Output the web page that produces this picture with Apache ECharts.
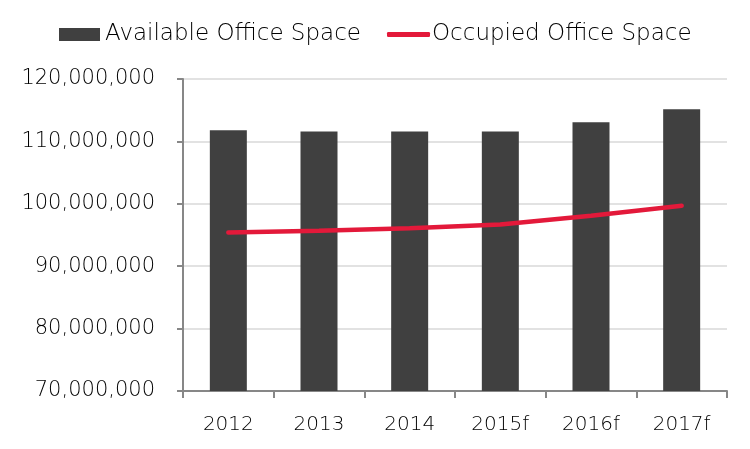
<!DOCTYPE html>
<html><head><meta charset="utf-8">
<script src="https://cdn.jsdelivr.net/npm/echarts@6/dist/echarts.min.js"></script>
<style>html,body{margin:0;padding:0;background:#fff}#c{width:750px;height:449px}</style>
</head><body><div id="c"></div>
<script>
const categories = ['2012','2013','2014','2015f','2016f','2017f'];
const availableSpace = [111780000, 111600000, 111600000, 111600000, 113060000, 115140000];
const occupiedSpace = [95400000, 95700000, 96100000, 96700000, 98100000, 99700000];
const yTicks = [70000000, 80000000, 90000000, 100000000, 110000000, 120000000];

const FONT = 'DejaVu Sans';
const chart = echarts.init(document.getElementById('c'));
chart.setOption({
  animation: false,
  textStyle: {fontFamily: FONT},
  legend: [{
    left: 54, top: 18,
    itemWidth: 41, itemHeight: 13,
    textStyle: {fontFamily: FONT, fontSize: 23, fontWeight: 200, color: '#000'},
    data: [{name: 'Available Office Space', icon: 'rect'}]
  }, {
    left: 382, top: 18,
    itemWidth: 43, itemHeight: 5,
    textStyle: {fontFamily: FONT, fontSize: 23, fontWeight: 200, color: '#000', padding: [0,0,0,-3]},
    data: [{name: 'Occupied Office Space', icon: 'roundRect'}]
  }],
  grid: {left: 183, right: 23, top: 79, bottom: 58, containLabel: false},
  xAxis: {
    type: 'category', data: categories,
    axisLine: {lineStyle: {color: '#878787', width: 2}},
    axisTick: {show: true, length: 7, lineStyle: {color: '#878787', width: 2}},
    axisLabel: {fontFamily: FONT, fontSize: 20, fontWeight: 200, color: '#000', margin: 24}
  },
  yAxis: {
    type: 'value', min: yTicks[0], max: yTicks[yTicks.length-1], interval: 10000000,
    axisLine: {show: true, lineStyle: {color: '#878787', width: 2}},
    axisTick: {show: true, length: 6, lineStyle: {color: '#878787', width: 2}},
    axisLabel: {fontFamily: FONT, fontSize: 21, fontWeight: 200, color: '#000', margin: 28,
      formatter: v => v.toLocaleString('en-US')},
    splitLine: {lineStyle: {color: '#d9d9d9', width: 1.5}}
  },
  series: [
    {name: 'Available Office Space', type: 'bar', data: availableSpace, barWidth: 37,
     itemStyle: {color: '#404040'}},
    {name: 'Occupied Office Space', type: 'line', data: occupiedSpace, symbol: 'none',
     lineStyle: {color: '#E3193A', width: 4.5, cap: 'round'}, itemStyle: {color: '#E3193A'}}
  ]
});
</script></body></html>
